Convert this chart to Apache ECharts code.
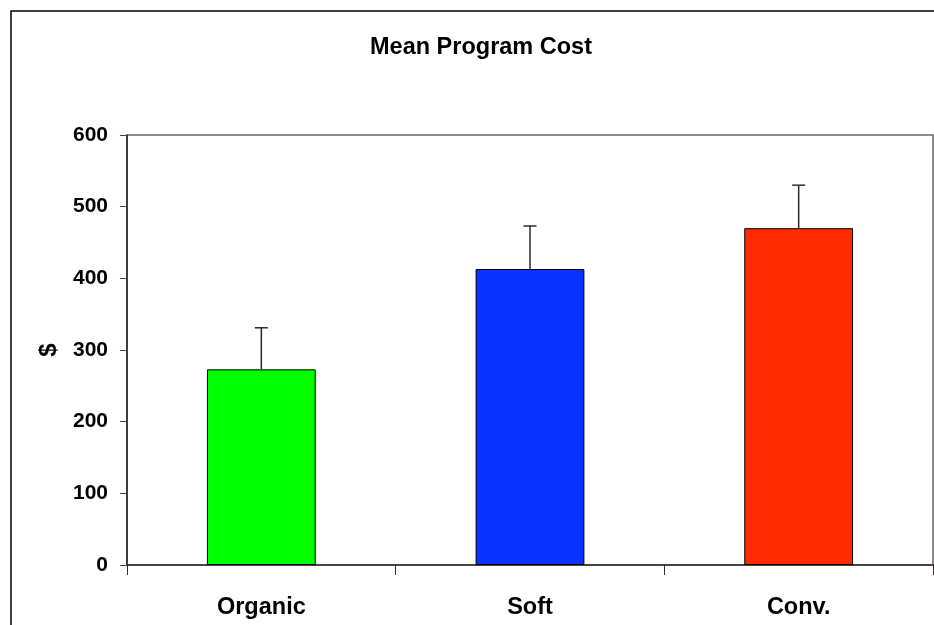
<!DOCTYPE html>
<html>
<head>
<meta charset="utf-8">
<script src="https://cdn.jsdelivr.net/npm/echarts@6/dist/echarts.min.js"></script>
<style>
html,body{margin:0;padding:0;background:#fff;}
#chart{width:934px;height:625px;}
</style>
</head>
<body>
<div id="chart"></div>
<script>
const categories = ['Organic', 'Soft', 'Conv.'];
const meanCost = [273, 413, 470];
const errorPlus = [58, 60, 60];
const barColors = ['#00ff00', '#0a32ff', '#ff2a00'];
const yTicks = [0, 100, 200, 300, 400, 500, 600];

const FONT = '"Liberation Sans", Arial, sans-serif';

const chart = echarts.init(document.getElementById('chart'), null, {renderer: 'canvas'});

const option = {
  backgroundColor: '#ffffff',
  animation: false,
  title: {
    text: 'Mean Program Cost',
    left: 481,
    top: 36,
    textAlign: 'center',
    padding: 0,
    textStyle: {fontFamily: FONT, fontWeight: 'bold', fontSize: 23.5, color: '#000'}
  },
  graphic: [{
    type: 'rect',
    x: 11, y: 11,
    shape: {x: 0, y: 0, width: 1000, height: 1000},
    style: {fill: 'none', stroke: '#000', lineWidth: 1.5},
    silent: true,
    z: -1
  }],
  grid: {
    left: 127, top: 135, right: 1, bottom: 60,
    show: true, borderColor: '#666', borderWidth: 1.5, backgroundColor: 'transparent'
  },
  xAxis: {
    type: 'category',
    data: categories,
    axisLine: {lineStyle: {color: '#3a2a2a', width: 1.5}},
    axisTick: {show: true, length: 10, lineStyle: {color: '#3a2a2a'}},
    axisLabel: {fontFamily: FONT, fontWeight: 'bold', fontSize: 23.5, color: '#000', margin: 31}
  },
  yAxis: {
    type: 'value',
    min: yTicks[0], max: yTicks[yTicks.length - 1], interval: 100,
    name: '$',
    nameLocation: 'middle',
    nameRotate: 90,
    nameGap: 66,
    nameTextStyle: {fontFamily: FONT, fontWeight: 'bold', fontSize: 24, color: '#000'},
    axisLine: {show: true, lineStyle: {color: '#2b1f1f', width: 1.5}},
    axisTick: {show: true, length: 7, lineStyle: {color: '#5a3a3a'}},
    splitLine: {show: false},
    axisLabel: {fontFamily: FONT, fontWeight: 'bold', fontSize: 21, color: '#000', margin: 19}
  },
  series: [{
    type: 'bar',
    barWidth: '40.5%',
    data: meanCost.map((v, i) => ({value: v, itemStyle: {color: barColors[i]}})),
    itemStyle: {borderColor: '#000', borderWidth: 1},
    z: 2
  }, {
    type: 'custom',
    z: 3,
    data: meanCost.map((v, i) => [i, v, v + errorPlus[i]]),
    renderItem: function (params, api) {
      const base = api.coord([api.value(0), api.value(1)]);
      const top = api.coord([api.value(0), api.value(2)]);
      const hw = 6.5;
      const style = {stroke: '#2b2b2b', lineWidth: 1.5};
      return {
        type: 'group',
        children: [
          {type: 'line', shape: {x1: base[0], y1: base[1], x2: top[0], y2: top[1]}, style: style},
          {type: 'line', shape: {x1: top[0] - hw, y1: top[1], x2: top[0] + hw, y2: top[1]}, style: style}
        ]
      };
    }
  }]
};
chart.setOption(option);
</script>
</body>
</html>
